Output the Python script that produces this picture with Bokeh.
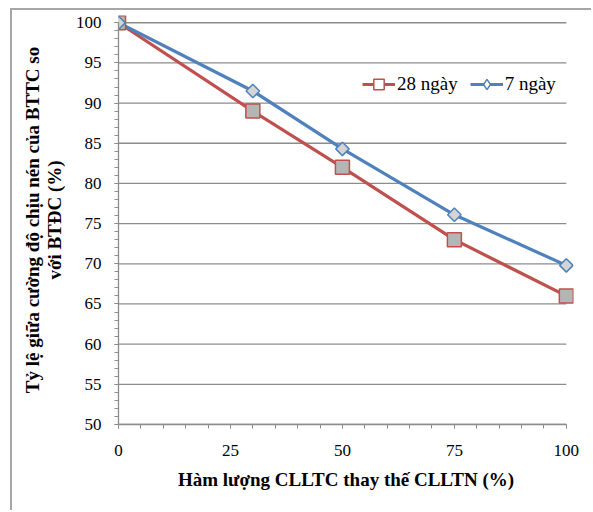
import math
from bokeh.plotting import figure
from bokeh.models import Range1d, Legend, LegendItem, FixedTicker, ColumnDataSource
from bokeh.embed import file_html
from bokeh.resources import INLINE

# ---- data ----
x_vals = [0, 30, 50, 75, 100]
y_28 = [100, 89, 82, 73, 66]
y_7 = [100, 91.5, 84.3, 76.1, 69.8]
x_ticks = [0, 25, 50, 75, 100]
x_minor = list(range(0, 101, 5))
y_ticks = [50, 55, 60, 65, 70, 75, 80, 85, 90, 95, 100]
y_minor = list(range(50, 101, 1))
label_28 = "28 ngày"
label_7 = "7 ngày"
x_title = "Hàm lượng CLLTC thay thế CLLTN (%)"
y_title = "Tỷ lệ giữa cường độ chịu nén của BTTC so\nvới BTĐC (%)"

RED = "#C0504D"
BLUE = "#4F81BD"
GRID = "#8C8C8C"
FONT = "'Liberation Serif', 'Times New Roman', serif"

src = ColumnDataSource(dict(x=x_vals, y28=y_28, y7=y_7))

p = figure(width=581, height=502,
           x_range=Range1d(0, 101.6), y_range=Range1d(50, 100.9),
           output_backend="svg", toolbar_location=None,
           min_border_left=106, min_border_right=20,
           min_border_top=5, min_border_bottom=88)
p.margin = (8, 0, 0, 10)
p.styles = {"border-left": "2px solid #A6A6A6", "border-top": "2px solid #A6A6A6"}
p.outline_line_color = None
p.background_fill_color = "white"
p.border_fill_color = "white"
p.xgrid.visible = False
p.ygrid.visible = False

# horizontal gridlines from tick values, spanning the axis extent
p.segment(x0=[x_ticks[0]] * len(y_ticks), x1=[x_ticks[-1]] * len(y_ticks),
          y0=y_ticks, y1=y_ticks, line_color=GRID, line_width=1.3)

# axes
for ax, ticks, minor, bnds in ((p.xaxis[0], x_ticks, x_minor, (0, 100)),
                                (p.yaxis[0], y_ticks, y_minor, (50, 100))):
    ax.ticker = FixedTicker(ticks=ticks, minor_ticks=minor)
    ax.bounds = bnds
    ax.axis_line_color = GRID
    ax.axis_line_width = 1.3
    ax.major_tick_line_color = GRID
    ax.minor_tick_line_color = GRID
    ax.major_tick_in = 0
    ax.minor_tick_in = 0
    ax.major_tick_out = 4
    ax.minor_tick_out = 4
    ax.major_label_text_font = FONT
    ax.major_label_text_font_size = "17px"
    ax.major_label_text_color = "black"
    ax.axis_label_text_font = FONT
    ax.axis_label_text_font_style = "bold"
    ax.axis_label_text_font_size = "19px"
    ax.axis_label_text_color = "black"

p.xaxis.axis_label = x_title
p.yaxis.axis_label = y_title
p.yaxis.major_label_standoff = 13
p.xaxis.major_label_standoff = 16
p.yaxis.axis_label_standoff = 8
p.xaxis.axis_label_standoff = 10
p.yaxis.axis_label_text_line_height = 1.05

l28 = p.line("x", "y28", source=src, line_color=RED, line_width=3.2)
l7 = p.line("x", "y7", source=src, line_color=BLUE, line_width=3.2)

# open-marker styles used by the legend (fully covered by the filled markers drawn on top)
k28 = p.scatter("x", "y28", source=src, marker="square", size=11,
                fill_color="white", line_color=RED, line_width=1.5)
k7 = p.scatter("x", "y7", source=src, marker="diamond", size=11,
               fill_color="white", line_color=BLUE, line_width=1.5)

s28 = p.scatter("x", "y28", source=src, marker="square", size=14, fill_color="#B5B5B5",
                line_color=RED, line_width=1.5)
s7 = p.scatter("x", "y7", source=src, marker="square", size=9.5, angle=math.pi / 4,
               fill_color="#D4D4D4", line_color=BLUE, line_width=1.5)

legend = Legend(items=[LegendItem(label=label_28, renderers=[l28, k28]),
                       LegendItem(label=label_7, renderers=[l7, k7])],
                orientation="horizontal", location=(244, 327))
legend.border_line_color = None
legend.background_fill_alpha = 0
legend.padding = 0
legend.margin = 0
legend.spacing = 12
legend.glyph_width = 33
legend.glyph_height = 26
legend.label_standoff = 2
legend.label_text_font = FONT
legend.label_text_font_size = "19px"
legend.label_text_color = "black"
p.add_layout(legend)

open("out.html", "w").write(file_html(p, INLINE))
